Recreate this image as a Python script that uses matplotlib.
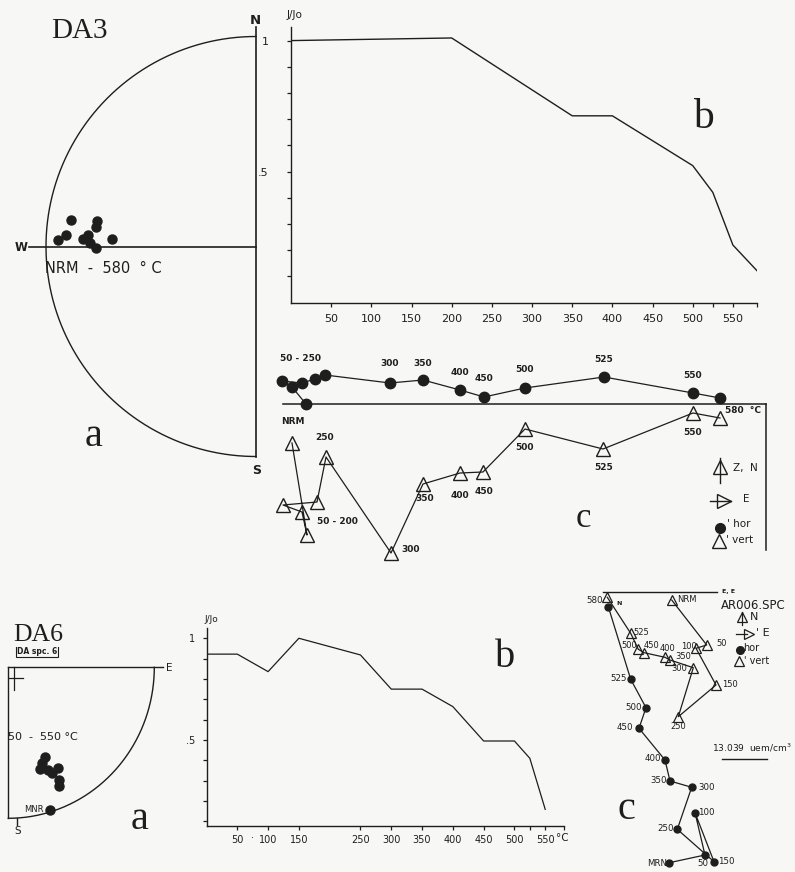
import numpy as np
import matplotlib.pyplot as plt

W, H = 795, 872
INK = '#1e1e1e'
PAPER = '#f7f7f5'
SERIF = 'Liberation Serif'

# ---- DA3 : stereonet directions (equal-area, unit radius, x = E, y = N)
da3_net_x = [-0.881, -0.757, -0.762, -0.905, -0.943, -0.800, -0.824, -0.686, -0.790, -0.762]
da3_net_y = [0.126, 0.121, 0.093, 0.055, 0.031, 0.055, 0.036, 0.036, 0.017, -0.007]

# ---- DA3 : normalised intensity vs temperature
da3_temp = [0, 200, 350, 400, 500, 525, 550, 580]
da3_jjo = [1.0, 1.01, 0.713, 0.713, 0.523, 0.421, 0.22, 0.122]

# ---- DA3 : orthogonal projection (NRM, 50..250, 300..580 C)
da3_hor_x = [-46.0, -47.4, -48.4, -46.4, -45.1, -44.1, -37.6, -34.3, -30.6, -28.2, -24.1, -16.2, -7.3, -4.6]
da3_hor_y = [0.0, 1.7, 2.3, 2.1, 2.5, 2.9, 2.1, 2.4, 1.4, 0.7, 1.6, 2.7, 1.1, 0.6]
da3_vert_x = [-47.4, -45.9, -46.4, -48.3, -44.9, -44.0, -37.5, -34.3, -30.6, -28.3, -24.1, -16.3, -7.3, -4.6]
da3_vert_y = [-3.9, -13.1, -10.8, -10.1, -9.8, -5.3, -14.9, -8.0, -6.9, -6.8, -2.5, -4.5, -0.9, -1.4]

# ---- DA6 : stereonet directions (lower-right quadrant)
da6_net_x = [0.251, 0.229, 0.217, 0.274, 0.297, 0.342, 0.349, 0.349, 0.286]
da6_net_y = [-0.594, -0.632, -0.674, -0.680, -0.702, -0.669, -0.746, -0.784, -0.945]

# ---- DA6 : normalised intensity vs temperature
da6_temp = [0, 50, 100, 150, 250, 300, 350, 400, 450, 500, 525, 550]
da6_jjo = [0.922, 0.922, 0.836, 1.0, 0.918, 0.75, 0.75, 0.664, 0.495, 0.495, 0.41, 0.159]

# ---- DA6 : orthogonal projection (NRM, 50, 100, 150, 250 ... 525, 580 C)
da6_hor_x = [-4.74, -1.17, -2.17, -0.27, -3.94, -2.50, -4.67, -5.17, -7.77, -7.07, -8.60, -10.84]
da6_hor_y = [-27.04, -26.27, -22.04, -26.94, -23.70, -19.50, -18.87, -16.77, -13.60, -11.54, -8.70, -1.44]
da6_vert_x = [-4.50, -1.00, -2.07, -0.07, -3.84, -2.34, -4.67, -5.17, -7.27, -7.84, -8.60, -10.94]
da6_vert_y = [-0.77, -5.27, -5.60, -9.27, -12.44, -7.54, -6.77, -6.50, -6.04, -5.70, -4.10, -0.50]

plt.rcParams['font.family'] = ['DejaVu Sans']
plt.rcParams['text.color'] = INK

fig = plt.figure(figsize=(W / 100, H / 100), dpi=100, facecolor=PAPER)


def panel(x0, y0, x1, y1):
    # axes placed by its pixel box (origin top-left of the sheet)
    ax = fig.add_axes([x0 / W, 1 - y1 / H, (x1 - x0) / W, (y1 - y0) / H])
    ax.patch.set_alpha(0)
    return ax


def jjo_axes(ax, xlab, ylo, yhi, ypad, xpad, fs):
    ax.set_xlim(0, 580)
    ax.set_ylim(ylo, yhi)
    for s in ['top', 'right']:
        ax.spines[s].set_visible(False)
    for s in ['left', 'bottom']:
        ax.spines[s].set_color(INK)
        ax.spines[s].set_linewidth(1.0)
    ax.set_xticks(xlab, [str(v) for v in xlab])
    ax.set_xticks([525, 580], minor=True)
    ax.set_yticks([0.5, 1.0], ['.5', '1'])
    ax.set_yticks(np.arange(0.1, 1.01, 0.1), minor=True)
    ax.tick_params(which='both', direction='out', length=3, width=0.9, color=INK)
    ax.tick_params(axis='y', which='major', pad=ypad, labelsize=fs, labelcolor=INK)
    ax.tick_params(axis='x', which='major', pad=xpad, labelsize=fs, labelcolor=INK)


# ================= DA3 a : stereonet =================
ax = panel(0, 0, 270, 480)
R, cx, cy = 210, 256, 246.5
ax.set_xlim(-cx / R, (270 - cx) / R)
ax.set_ylim((cy - 480) / R, cy / R)
t = np.linspace(np.pi / 2, 3 * np.pi / 2, 300)
ax.plot(np.cos(t), np.sin(t), color=INK, lw=1.0)
ax.plot([0, 0], [-1.0, 1.045], color=INK, lw=1.2)
ax.plot([-1.08, 0], [0, 0], color=INK, lw=1.2)
ax.plot(da3_net_x, da3_net_y, 'o', ms=6.5, color=INK)
ax.set_axis_off()

# ================= DA3 b : J/Jo =================
ax = panel(291, 26.7, 757, 302.7)
ax.plot(da3_temp, da3_jjo, color=INK, lw=1.0)
jjo_axes(ax, list(range(50, 551, 50)), 0, 1.053, 13, 5, 8)

# ================= DA3 c : orthogonal plot =================
ax = panel(270, 350, 790, 570)
ax.set_xlim(-49.6, 2.4)
ax.set_ylim(-16.6, 5.4)
ax.plot([-48.3, 0], [0, 0], color=INK, lw=1.1)
ax.plot([0, 0], [0, -14.6], color=INK, lw=1.1)
ax.plot(da3_hor_x, da3_hor_y, '-o', color=INK, lw=0.9, ms=7.5)
ax.plot(da3_vert_x, da3_vert_y, '-^', color=INK, lw=0.9, ms=10,
        mfc='none', mec=INK, mew=1.0)
ax.set_axis_off()

# ================= DA6 a : stereonet quadrant =================
ax = panel(0, 640, 180, 840)
rx, ry, qx, qy = 146, 151, 8.3, 667.3
ax.set_xlim(-qx / rx, (180 - qx) / rx)
ax.set_ylim((qy - 840) / ry, (qy - 640) / ry)
t = np.linspace(-np.pi / 2, 0, 200)
ax.plot(np.cos(t), np.sin(t), color=INK, lw=1.0)
ax.plot([0, 1.06], [0, 0], color=INK, lw=1.0)
ax.plot([0, 0], [0, -1.0], color=INK, lw=1.0)
ax.plot([0.06, 0.06], [-1.0, -1.045], color=INK, lw=1.0)
ax.plot([0.005, 0.1], [-0.071, -0.071], color=INK, lw=0.9)
ax.plot([0.039, 0.039], [0, -0.15], color=INK, lw=0.9)
ax.plot(da6_net_x, da6_net_y, 'o', ms=6.5, color=INK)
ax.set_axis_off()

# ================= DA6 b : J/Jo =================
ax = panel(206.5, 628.3, 563.7, 825.7)
ax.plot(da6_temp, da6_jjo, color=INK, lw=0.9)
jjo_axes(ax, [50, 100, 150, 250, 300, 350, 400, 450, 500, 550],
         0.0786, 1.049, 5, 4, 7)

# ================= DA6 c : orthogonal plot =================
ax = panel(570, 580, 795, 872)
ax.set_xlim(-14.67, 7.83)
ax.set_ylim(-27.97, 1.23)
ax.plot([-11.34, 0], [0, 0], color=INK, lw=1.0)
ax.plot(da6_hor_x, da6_hor_y, '-o', color=INK, lw=0.9, ms=5)
ax.plot(da6_vert_x, da6_vert_y, '-^', color=INK, lw=0.9, ms=7,
        mfc='none', mec=INK, mew=0.9)
ax.set_axis_off()

# ================= annotations (pixel coordinates) =================
deco = panel(0, 0, W, H)
deco.set_xlim(0, W)
deco.set_ylim(H, 0)
deco.set_axis_off()


def txt(x, y, s, size=7, ha='center', **kw):
    deco.text(x, y, s, fontsize=size, ha=ha, va='center', color=INK, **kw)


# big panel letters
txt(79, 31, 'DA3', 21, family=SERIF)
txt(94, 436, 'a', 29, family=SERIF)
txt(703, 118, 'b', 30, family=SERIF)
txt(583, 518, 'c', 25, family=SERIF)
txt(140, 819, 'a', 29, family=SERIF)
txt(505, 657, 'b', 29, family=SERIF)
txt(626, 809, 'c', 29, family=SERIF)

# DA3 a
txt(21, 247, 'W', 8.5, weight='bold')
txt(255, 20, 'N', 9.5, weight='bold')
txt(257, 470, 'S', 9, weight='bold')
txt(45, 268, 'NRM  -  580  ° C', 10.5, ha='left')

# DA3 b
txt(295, 15, 'J/Jo', 7.5)

# DA3 c : horizontal projections
for s, x, y in [('50 - 250', 300, 358), ('300', 390, 363), ('350', 423, 363),
                ('400', 460, 372), ('450', 484, 378), ('500', 525, 369),
                ('525', 604, 359), ('550', 693, 375)]:
    txt(x, y, s, 6.5, weight='bold')
txt(725, 410, '580  °C', 6.5, ha='left', weight='bold')
# DA3 c : vertical projections
for s, x, y in [('NRM', 293, 421), ('250', 325, 437), ('50 - 200', 337, 521),
                ('300', 411, 549), ('350', 425, 498), ('400', 460, 495),
                ('450', 484, 491), ('500', 525, 447), ('525', 604, 467),
                ('550', 693, 432)]:
    txt(x, y, s, 6.5, weight='bold')
# DA3 c : key
deco.plot([720, 720], [458, 483], color=INK, lw=1)
deco.plot([720], [467], '^', ms=10, mfc='none', mec=INK, mew=1)
txt(733, 468, 'Z,  N', 7.5, ha='left')
deco.plot([710, 731], [501, 501], color=INK, lw=1)
deco.plot([724], [501], '>', ms=10, mfc='none', mec=INK, mew=1)
txt(743, 499, 'E', 7.5, ha='left')
deco.plot([720], [528], 'o', ms=7, color=INK)
txt(727, 524, "' hor", 7.5, ha='left')
deco.plot([718.5], [541], '^', ms=10, mfc='none', mec=INK, mew=1)
txt(726, 540, "' vert", 7.5, ha='left')

# DA6 a
txt(37, 651, 'DA spc. 6', 5.5, weight='bold',
    bbox=dict(boxstyle='square,pad=0.15', fc='none', ec=INK, lw=0.8))
txt(38, 635, 'DA6', 18.5, family=SERIF,
    bbox=dict(boxstyle='square,pad=0.05', fc=PAPER, ec='none'))
txt(169, 668, 'E', 7.5)
txt(18, 831, 'S', 7.5)
txt(8, 737, '50  -  550 °C', 8, ha='left')
txt(34, 809, 'MNR', 6)

# DA6 b
txt(211, 619, 'J/Jo', 6.5)
txt(253, 838, '·', 7)
txt(556, 838, '°C', 7.5, ha='left')

# DA6 c : vertical projections
for s, x, y in [('NRM', 677, 599), ('525', 633, 632), ('500', 621, 645),
                ('450', 644, 645), ('400', 660, 648), ('350', 675, 656),
                ('300', 671, 668), ('100', 681, 646), ('50', 716, 643),
                ('150', 722, 684), ('250', 670, 726)]:
    txt(x, y, s, 6, ha='left')
txt(603, 600, '580', 6.2, ha='right')
txt(616, 603, 'N', 4.5, ha='left', weight='bold')
# DA6 c : horizontal projections
for s, x, y in [('525', 610, 678), ('500', 625, 707), ('450', 617, 727),
                ('400', 645, 758), ('350', 650, 780), ('300', 698, 787),
                ('100', 698, 812), ('250', 657, 828), ('MRN', 647, 863),
                ('50', 697, 863), ('150', 718, 861)]:
    txt(x, y, s, 6.2, ha='left')
# DA6 c : key and scale
txt(722, 591, 'E, E', 4.5, ha='left', weight='bold')
txt(721, 605, 'AR006.SPC', 8.5, ha='left')
deco.plot([741.7, 741.7], [612, 625], color=INK, lw=0.9)
deco.plot([741.7], [617], '^', ms=7, mfc='none', mec=INK, mew=0.9)
txt(750, 617, 'N', 8, ha='left')
deco.plot([736, 747], [634, 634], color=INK, lw=0.9)
deco.plot([749], [634], '>', ms=7, mfc='none', mec=INK, mew=0.9)
txt(756, 633, "' E", 8, ha='left')
deco.plot([740], [650], 'o', ms=5.5, color=INK)
txt(743, 648, 'hor', 7, ha='left')
deco.plot([738.5], [661], '^', ms=7, mfc='none', mec=INK, mew=0.9)
txt(744, 661, "' vert", 7, ha='left')
txt(712, 748, r'13.039  uem/cm$^3$', 6.5, ha='left')
deco.plot([722, 767], [759, 759], color=INK, lw=1.0)

fig.savefig('out.png', dpi=100, facecolor=PAPER)
